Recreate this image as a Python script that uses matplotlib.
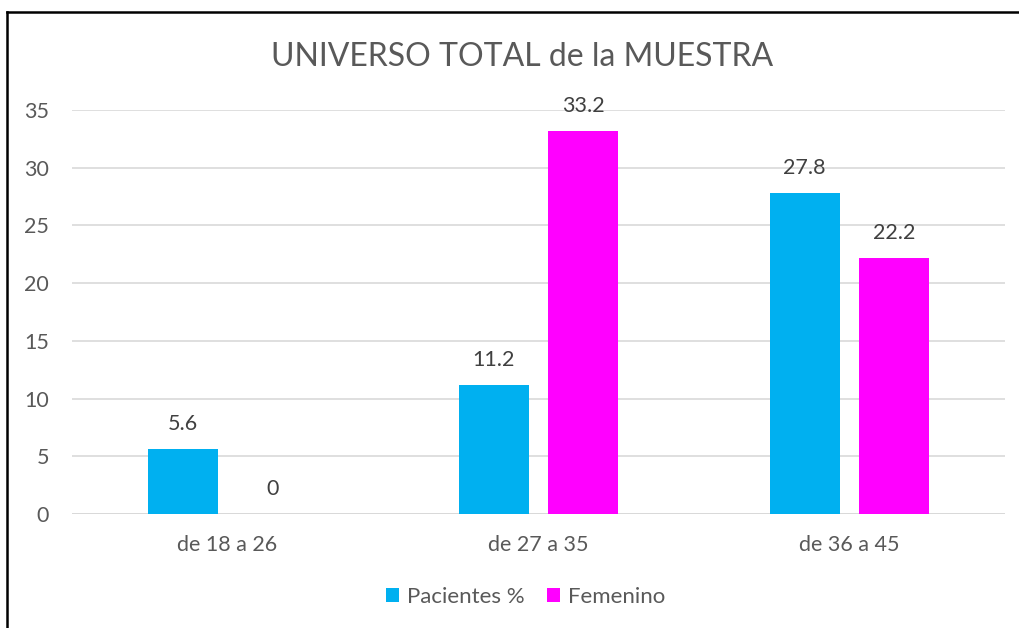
import numpy as np
import matplotlib.pyplot as plt
from matplotlib.lines import Line2D

categories = ['de 18 a 26', 'de 27 a 35', 'de 36 a 45']
pacientes = [5.6, 11.2, 27.8]
femenino = [0, 33.2, 22.2]
series_names = ['Pacientes %', 'Femenino']
yticks = [0, 5, 10, 15, 20, 25, 30, 35]

plt.rcParams['font.family'] = ['Lato', 'DejaVu Sans']
txt = '#595959'

fig = plt.figure(figsize=(10.19, 6.28), dpi=100)
ax = fig.add_axes([72 / 1019, 1 - 514 / 628, 933 / 1019, 404 / 628])

x = np.arange(len(categories))
w = 0.225
off = 0.144
b1 = ax.bar(x - off, pacientes, w, color='#00B0F0', label=series_names[0], zorder=3)
b2 = ax.bar(x + off, femenino, w, color='#FF00FF', label=series_names[1], zorder=3)

for bars, vals in ((b1, pacientes), (b2, femenino)):
    for r, v in zip(bars, vals):
        ax.annotate(f'{v:g}', (r.get_x() + r.get_width() / 2, v),
                    xytext=(0, 18), textcoords='offset points',
                    ha='center', va='center', fontsize=15.5, color='#404040')

ax.set_xlim(-0.5, 2.5)
ax.set_ylim(0, 35)
ax.set_yticks(yticks)
ax.set_xticks(x)
ax.set_xticklabels(categories)
ax.grid(axis='y', color='#d9d9d9', linewidth=1.2, zorder=0)
ax.axhline(0, color='#d9d9d9', linewidth=2, zorder=2)
for s in ax.spines.values():
    s.set_visible(False)
ax.tick_params(length=0, labelsize=15.5, labelcolor=txt)
ax.tick_params(axis='y', pad=16.5)
ax.tick_params(axis='x', pad=15)

fig.text(0.512, 1 - 57 / 628, 'UNIVERSO TOTAL de la MUESTRA', ha='center', va='center',
         fontsize=23, color=txt)

fig.legend(handles=[b1, b2], loc='center', bbox_to_anchor=(0.516, 1 - 597 / 628),
           ncol=2, frameon=False, fontsize=16, labelcolor=txt,
           handlelength=0.6, handleheight=0.6, handletextpad=0.35, columnspacing=1.0)

# black frame of the original screenshot (top and left edges)
fig.add_artist(Line2D([7 / 1019, 7 / 1019], [0, 1 - 12 / 628], color='black', linewidth=1.8,
                      transform=fig.transFigure))
fig.add_artist(Line2D([7 / 1019, 1], [1 - 12 / 628, 1 - 12 / 628], color='black', linewidth=1.8,
                      transform=fig.transFigure))

fig.savefig('out.png', dpi=100, facecolor='white')
